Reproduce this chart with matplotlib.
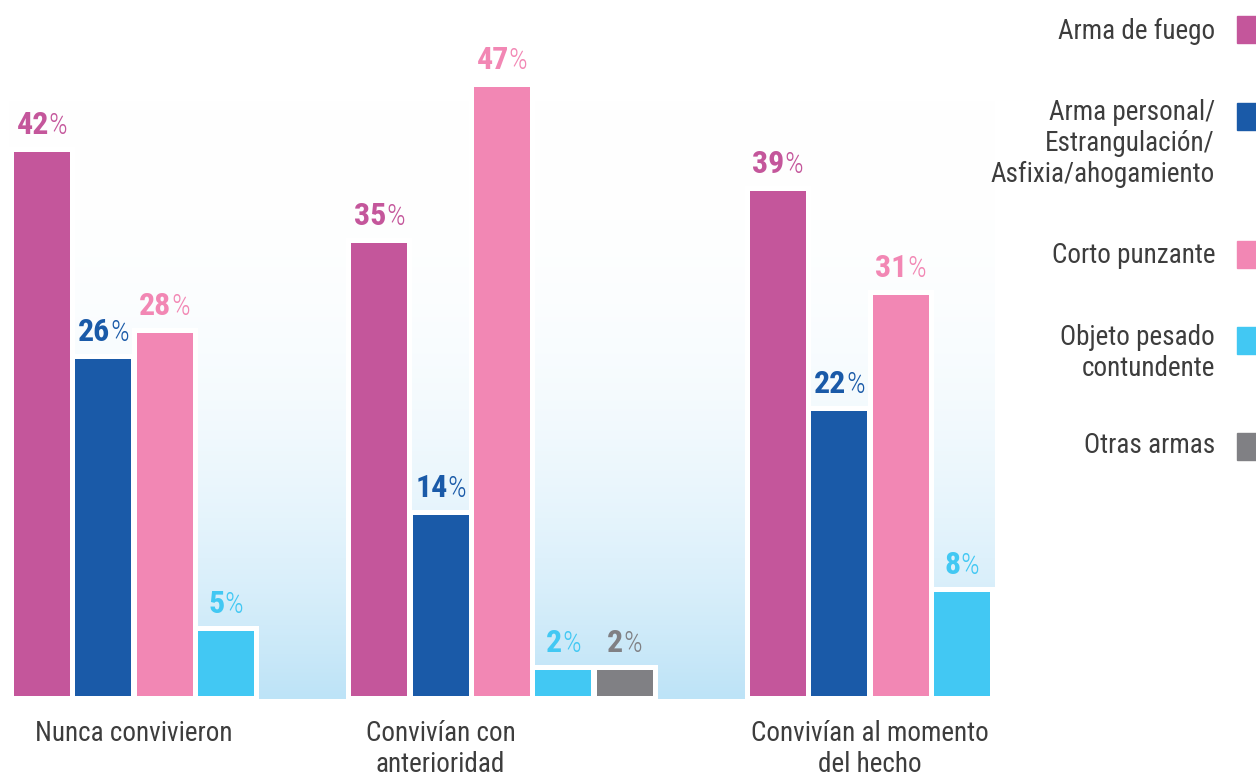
import numpy as np
import matplotlib
matplotlib.use('Agg')
import matplotlib.pyplot as plt
from matplotlib import font_manager
from matplotlib.patches import Rectangle

# data
categories = ['Nunca convivieron', 'Convivían con\nanterioridad', 'Convivían al momento\ndel hecho']
weapons = ['Arma de fuego', 'Arma personal/\nEstrangulación/\nAsfixia/ahogamiento',
           'Corto punzante', 'Objeto pesado\ncontundente', 'Otras armas']
nunca = [42, 26, 28, 5]
anterioridad = [35, 14, 47, 2, 2]
momento = [39, 22, 31, 8]
group_values = [nunca, anterioridad, momento]

colors = ['#c4569b', '#1a5aa8', '#f287b4', '#42c8f3', '#808084']
TXT = '#3d3d3d'

# pick a narrow sans if there is one
installed = {f.name for f in font_manager.fontManager.ttflist}
FONT = 'DejaVu Sans'
for name in ['Liberation Sans Narrow', 'Roboto Condensed', 'Open Sans Condensed', 'Roboto']:
    if name in installed:
        FONT = name
        break
plt.rcParams['font.family'] = [FONT, 'DejaVu Sans']

# layout (pixels)
DPI = 100
W, H = 1256, 776
SLOT = 61.33        # px between bar centres
PX_PER_PCT = 12.95  # px per percentage point
BASE = 696          # y px of the zero line
X0 = 42             # x px of the first bar centre
LINE = 31           # px between text lines

group_start = [0, 5.5, 12]
label_pos = [1.5, 6.5, 13.5]


def px_x(px):
    return (px - X0) / SLOT


def px_y(py):
    return (BASE - py) / PX_PER_PCT


fig = plt.figure(figsize=(W / DPI, H / DPI), dpi=DPI)
ax = fig.add_axes([0, 0, 1, 1])
ax.axis('off')

# soft blue wash behind the bars
t = np.linspace(0, 1, 256)[:, None]
w = t ** 2.6
top_c = np.array([1.0, 1.0, 1.0])
bot_c = np.array([189, 227, 247]) / 255
grad = (1 - w)[..., None] * top_c + w[..., None] * bot_c
ax.imshow(grad, extent=[px_x(9), px_x(995), px_y(699), px_y(100)],
          aspect='auto', origin='upper', interpolation='bilinear', zorder=0)

ax.set_xlim(px_x(0), px_x(W))
ax.set_ylim(px_y(H), px_y(0))

bw = 56 / SLOT
pad_x = 5 / SLOT
pad_y = 5 / PX_PER_PCT
floor = px_y(710)
LIFT = 18 * 72 / DPI

pairs = []
for start, vals in zip(group_start, group_values):
    xs = start + np.arange(len(vals))
    vals = np.array(vals)
    ax.bar(xs, vals + pad_y - floor, bottom=floor, width=bw + 2 * pad_x,
           color='white', zorder=1)
    ax.bar(xs, vals, width=bw, color=colors[:len(vals)], zorder=2)
    for x, v, c in zip(xs, vals, colors):
        num = ax.annotate(f'{v}', (x, v), xytext=(0, LIFT), textcoords='offset points',
                          ha='left', va='baseline', fontsize=23, fontweight='bold',
                          color=c, zorder=3)
        pct = ax.annotate('%', (x, v), xytext=(0, LIFT), textcoords='offset points',
                          ha='left', va='baseline', fontsize=21, fontweight='light',
                          color=c, zorder=3)
        pairs.append((num, pct))

# centre each "NN%" pair over its bar
fig.canvas.draw()
r = fig.canvas.get_renderer()
for num, pct in pairs:
    wn = num.get_window_extent(r).width
    wp = pct.get_window_extent(r).width
    left = -(wn + wp) / 2
    num.xyann = (left * 72 / DPI, LIFT)
    pct.xyann = ((left + wn) * 72 / DPI, LIFT)

# category names under each group, one line at a time
for pos, cat in zip(label_pos, categories):
    for i, line in enumerate(cat.split('\n')):
        ax.text(pos, px_y(741 + i * LINE), line, ha='center', va='baseline',
                fontsize=19.5, color=TXT)

# legend on the right
leg_base = [39, 120, 263, 345, 453]
leg_top = [16, 103, 241, 327, 433]
for name, c, b, tp in zip(weapons, colors, leg_base, leg_top):
    for i, line in enumerate(name.split('\n')):
        fig.text(1215 / W, 1 - (b + i * LINE) / H, line, ha='right', va='baseline',
                 fontsize=19.5, color=TXT)
    fig.patches.append(Rectangle((1237 / W, 1 - (tp + 27) / H), 27 / W, 27 / H,
                                 transform=fig.transFigure, color=c))

fig.savefig('out.png', dpi=DPI)
